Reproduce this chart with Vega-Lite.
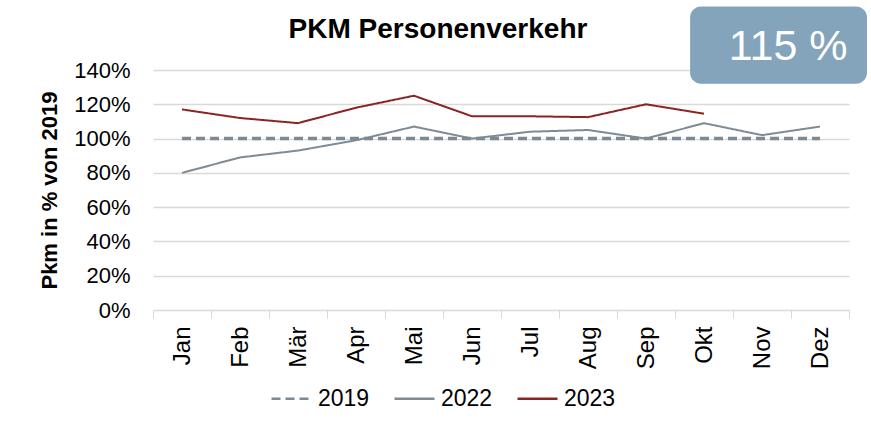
{
  "$schema": "https://vega.github.io/schema/vega-lite/v6.json",
  "width": 696,
  "height": 240,
  "autosize": {"type": "none"},
  "padding": {"left": 153, "top": 70, "right": 22, "bottom": 116},
  "background": "white",
  "config": {
    "font": "Liberation Sans",
    "view": {"stroke": null},
    "title": {"font": "Liberation Sans", "fontSize": 28, "fontWeight": "bold", "color": "#000000", "anchor": "middle", "frame": "group", "dx": -63, "offset": -37},
    "axisX": {
      "labelAngle": -90, "labelAlign": "right", "labelBaseline": "middle",
      "labelFontSize": 24, "labelColor": "#000000", "labelPadding": 8,
      "tickBand": "extent", "tickSize": 8, "tickColor": "#d9d9d9", "domainColor": "#d9d9d9",
      "grid": false
    },
    "axisY": {
      "titleFontSize": 22, "titleFontWeight": "bold", "titleColor": "#000000", "titlePadding": 12,
      "labelOverlap": false, "format": ".0%",
      "labelFontSize": 22, "labelColor": "#000000", "labelPadding": 23,
      "ticks": false, "domain": false, "grid": true, "gridColor": "#d9d9d9", "gridWidth": 1.5
    }
  },
  "title": "PKM Personenverkehr",
  "datasets": {
    "series": [
      {"month": "Jan", "year": "2019", "value": 1.0},
      {"month": "Feb", "year": "2019", "value": 1.0},
      {"month": "Mär", "year": "2019", "value": 1.0},
      {"month": "Apr", "year": "2019", "value": 1.0},
      {"month": "Mai", "year": "2019", "value": 1.0},
      {"month": "Jun", "year": "2019", "value": 1.0},
      {"month": "Jul", "year": "2019", "value": 1.0},
      {"month": "Aug", "year": "2019", "value": 1.0},
      {"month": "Sep", "year": "2019", "value": 1.0},
      {"month": "Okt", "year": "2019", "value": 1.0},
      {"month": "Nov", "year": "2019", "value": 1.0},
      {"month": "Dez", "year": "2019", "value": 1.0},
      {"month": "Jan", "year": "2022", "value": 0.80},
      {"month": "Feb", "year": "2022", "value": 0.89},
      {"month": "Mär", "year": "2022", "value": 0.93},
      {"month": "Apr", "year": "2022", "value": 0.99},
      {"month": "Mai", "year": "2022", "value": 1.07},
      {"month": "Jun", "year": "2022", "value": 1.00},
      {"month": "Jul", "year": "2022", "value": 1.04},
      {"month": "Aug", "year": "2022", "value": 1.05},
      {"month": "Sep", "year": "2022", "value": 1.00},
      {"month": "Okt", "year": "2022", "value": 1.09},
      {"month": "Nov", "year": "2022", "value": 1.02},
      {"month": "Dez", "year": "2022", "value": 1.07},
      {"month": "Jan", "year": "2023", "value": 1.17},
      {"month": "Feb", "year": "2023", "value": 1.12},
      {"month": "Mär", "year": "2023", "value": 1.09},
      {"month": "Apr", "year": "2023", "value": 1.18},
      {"month": "Mai", "year": "2023", "value": 1.25},
      {"month": "Jun", "year": "2023", "value": 1.13},
      {"month": "Jul", "year": "2023", "value": 1.13},
      {"month": "Aug", "year": "2023", "value": 1.125},
      {"month": "Sep", "year": "2023", "value": 1.20},
      {"month": "Okt", "year": "2023", "value": 1.145}
    ],
    "badge": [{"label": "115 %"}]
  },
  "layer": [
    {
      "data": {"name": "series"},
      "mark": {"type": "line", "clip": false},
      "encoding": {
        "x": {
          "field": "month", "type": "nominal",
          "sort": ["Jan","Feb","Mär","Apr","Mai","Jun","Jul","Aug","Sep","Okt","Nov","Dez"],
          "scale": {"paddingInner": 0, "paddingOuter": 0},
          "title": null
        },
        "y": {
          "field": "value", "type": "quantitative",
          "scale": {"domain": [0, 1.4], "nice": false},
          "title": "Pkm in % von 2019",
          "axis": {"values": [0, 0.2, 0.4, 0.6, 0.8, 1.0, 1.2, 1.4], "tickCount": 8, "labelOverlap": false}
        },
        "color": {
          "field": "year", "type": "nominal",
          "scale": {"domain": ["2019", "2022", "2023"], "range": ["#7d8a93", "#7f8b94", "#8b2525"]},
          "legend": {
            "title": null, "orient": "none", "direction": "horizontal", "legendX": 117, "legendY": 307,
            "symbolType": "stroke", "symbolSize": 1600, "symbolStrokeWidth": 2.5,
            "labelFontSize": 23, "labelColor": "#000000", "labelOffset": 5, "columnPadding": 19
          }
        },
        "strokeDash": {
          "field": "year", "type": "nominal",
          "scale": {"domain": ["2019", "2022", "2023"], "range": [[9, 5], [1, 0], [1, 0]]},
          "legend": {
            "title": null, "orient": "none", "direction": "horizontal", "legendX": 117, "legendY": 307,
            "symbolType": "stroke", "symbolSize": 1600, "symbolStrokeWidth": 2.5,
            "labelFontSize": 23, "labelColor": "#000000", "labelOffset": 5, "columnPadding": 19
          }
        },
        "strokeWidth": {
          "condition": {"test": "datum.year === '2019'", "value": 3.5},
          "value": 2
        }
      }
    },
    {
      "data": {"name": "badge"},
      "mark": {"type": "rect", "clip": false, "cornerRadius": 11, "color": "#84a4bc"},
      "encoding": {
        "x": {"datum": "Okt", "bandPosition": 0.26, "title": null},
        "x2": {"datum": "Dez", "bandPosition": 1.31},
        "y": {"datum": 1.32, "title": "Pkm in % von 2019"},
        "y2": {"datum": 1.77}
      }
    },
    {
      "data": {"name": "badge"},
      "mark": {"type": "text", "clip": false, "color": "#ffffff", "fontSize": 43, "baseline": "middle", "align": "center"},
      "encoding": {
        "x": {"datum": "Nov", "bandPosition": 0.95, "title": null},
        "y": {"datum": 1.534, "title": "Pkm in % von 2019"},
        "text": {"field": "label"}
      }
    }
  ]
}
